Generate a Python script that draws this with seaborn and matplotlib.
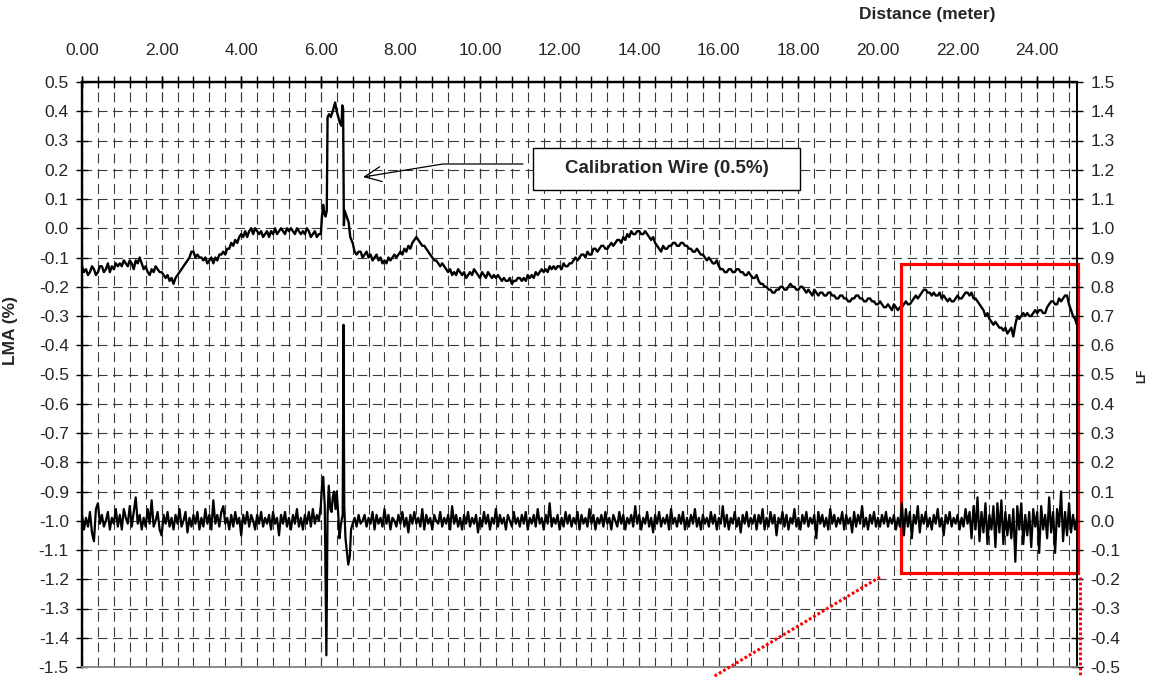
import numpy as np
import pandas as pd
import matplotlib
matplotlib.use("Agg")
import matplotlib.pyplot as plt
import seaborn as sns
from matplotlib.lines import Line2D
from matplotlib.patches import Rectangle

# ------------------------------------------------------------------ data
# LMA (%) trace, values in hundredths of a percent
# segment 1: distance 0.00 .. 6.00 m, step 0.05 m
lma_seg1 = [
    -13, -15, -14, -16, -15, -13, -14, -16, -15, -13, -13, -15, -14, -12, -15, -13, -14, -12, -13, -12,
    -13, -11, -12, -13, -11, -12, -14, -11, -12, -10, -12, -14, -13, -15, -16, -14, -15, -13, -14, -15,
    -15, -16, -17, -16, -18, -17, -19, -17, -16, -15, -14, -13, -12, -11, -10, -8, -8, -10, -9, -10,
    -10, -11, -10, -12, -11, -10, -12, -10, -11, -9, -9, -8, -9, -7, -7, -5, -6, -4, -5, -3,
    -2, -3, -1, -3, -1, 0, -2, 0, -1, -2, -1, -3, -2, -1, -3, -1, -2, 0, -2, -1,
    0, -1, -2, 0, -1, 0, -1, -2, 0, -1, -2, -1, -2, 0, -1, -3, -2, -1, -3, -2,
    -2,
]
# calibration wire region (irregular distances)
lma_peak_x = [6.03, 6.06, 6.09, 6.12, 6.15, 6.17, 6.21, 6.25, 6.30, 6.36,
              6.40, 6.44, 6.48, 6.52, 6.54, 6.56, 6.58, 6.60, 6.65, 6.70, 6.74]
lma_peak = [4, 8, 5, 4, 6, 38, 39, 38, 40, 43,
            40, 38, 36, 35, 42, 41, 1, 6, 4, 2, -3]
# segment 2: distance 6.80 .. 25.00 m, step 0.05 m
lma_seg2 = [
    -5, -8, -9, -8,
    -8, -10, -9, -8, -10, -9, -11, -10, -9, -11, -10, -12, -11, -12, -10, -11, -10, -9, -10, -9,
    -8, -9, -7, -8, -6, -7, -5, -4, -3, -4, -5, -6, -6, -7, -8, -9, -10, -11, -11, -12,
    -13, -12, -13, -14, -15, -14, -16, -15, -16, -14, -15, -16, -15, -17, -16, -15, -16, -14, -15, -16,
    -17, -15, -16, -17, -15, -16, -17, -16, -17, -16, -17, -18, -17, -18, -18, -17, -19, -18, -18, -17,
    -17, -18, -17, -18, -16, -17, -16, -17, -15, -16, -15, -14, -15, -14, -15, -13, -14, -13, -14, -13,
    -13, -14, -12, -13, -13, -12, -12, -11, -10, -11, -10, -9, -9, -10, -8, -9, -9, -7, -7, -8,
    -7, -6, -6, -7, -7, -6, -5, -6, -5, -4, -4, -5, -3, -4, -2, -3, -1, -2, -2, -1,
    -1, -2, -2, -1, -2, -3, -4, -3, -5, -6, -7, -8, -6, -7, -7, -6, -6, -5, -5, -6,
    -6, -5, -5, -6, -6, -7, -7, -8, -8, -7, -8, -9, -9, -10, -11, -10, -11, -12, -12, -11,
    -13, -14, -14, -15, -15, -14, -14, -15, -15, -14, -14, -15, -15, -16, -16, -15, -16, -17, -17, -16,
    -18, -19, -19, -20, -20, -21, -21, -22, -22, -21, -21, -20, -20, -21, -21, -20, -19, -20, -20, -21,
    -21, -20, -20, -21, -22, -21, -22, -23, -21, -22, -23, -22, -22, -23, -23, -22, -22, -23, -23, -24,
    -24, -23, -23, -24, -24, -25, -25, -24, -24, -23, -23, -24, -24, -25, -25, -24, -24, -25, -25, -26,
    -26, -25, -26, -27, -27, -26, -27, -28, -26, -27, -28, -27, -27, -26, -25, -26, -26, -25, -24, -23,
    -24, -23, -22, -21, -21, -22, -22, -23, -22, -23, -23, -22, -24, -23, -24, -25, -24, -25, -25, -24,
    -23, -24, -24, -23, -22, -22, -23, -22, -24, -24, -25, -26, -27, -28, -30, -29, -31, -32, -33, -32,
    -33, -34, -34, -35, -34, -36, -35, -34, -37, -33, -30, -31, -30, -29, -30, -29, -30, -30, -29, -28,
    -29, -28, -28, -29, -29, -27, -26, -25, -25, -26, -26, -24, -25, -24, -23, -23, -26, -28, -30, -31,
    -33,
]

# LF trace, values in hundredths
# segment 1: distance 0.00 .. 6.00 m, step 0.05 m
lf_seg1 = [
    2, -3, 1, -2, 3, -4, -7, 4, 6, -1, 2, -2, 0, 3, -3, 1, -1, 4, -2, 2,
    -3, 4, 1, -1, 5, -2, 3, 8, -1, 2, -3, 1, -2, 4, -1, 7, -2, 0, 3, -3,
    -5, 2, -1, 3, -2, 1, -3, 2, -1, 4, -2, 0, 3, -4, 1, -2, 2, -1, 3, -3,
    1, -2, 4, -1, 2, -3, 7, -1, 2, -2, 3, 5, -1, 1, -3, 2, -2, 3, -1, 1,
    -5, 2, -1, 3, -2, 2, 0, -3, 2, -1, 3, -2, 1, -1, 2, -3, 3, -1, 1, -5,
    2, -1, 3, -2, 1, -3, 2, -1, 4, -2, 1, -3, 2, -1, 3, -2, 4, -1, 2, 0,
    5,
]
lf_peak_x = [6.03, 6.06, 6.10, 6.14, 6.17, 6.20, 6.24, 6.27, 6.30, 6.33,
             6.37, 6.40, 6.44, 6.47, 6.50, 6.52, 6.55, 6.57, 6.59, 6.62,
             6.65, 6.69, 6.73, 6.76]
lf_peak = [12, 15, 5, -46, 2, 12, 4, 3, 8, 10,
           4, 10, 2, -6, -2, 0, 2, 67, 5, -6,
           -10, -15, -12, -3]
# segment 2: distance 6.80 .. 25.00 m, step 0.05 m
lf_seg2 = [
    -1, 1, -2, 2,
    -1, 0, 2, -2, 1, -1, 3, -3, 2, -1, 1, -2, 4, -1, 2, -3, 1, 0, -2, 2,
    -1, 3, -2, 1, -4, 2, -1, 3, -1, 1, -2, 4, -3, 2, -1, 1, -3, 2, 0, -1,
    3, -2, 1, -1, 2, -3, 5, -1, 2, -2, 1, -3, 2, -1, 3, -2, 1, -1, 2, -4,
    1, -2, 3, -1, 2, -3, 1, -1, 4, -2, 2, -1, 1, -3, 2, 0, -2, 3, -1, 1,
    -2, 2, -1, 3, -3, 1, -1, 2, -2, 4, -1, 1, -3, 2, -1, 6, -2, 1, -1, 2,
    -3, 1, -2, 3, -1, 2, -2, 1, -1, 3, -3, 2, -1, 1, -2, 4, -1, 2, -3, 1,
    -1, 2, -2, 3, -1, 1, -3, 2, 0, -2, 3, -1, 2, -3, 1, -1, 2, -2, 5, -1,
    2, -3, 1, -1, 3, -2, 1, -4, 2, -1, 3, -2, 1, -1, 2, -3, 4, -1, 1, -2,
    2, -1, 3, -3, 1, -2, 2, -1, 4, -2, 1, -3, 2, -1, 1, -2, 3, -1, 2, -3,
    1, -1, 5, -2, 2, -3, 1, -1, 3, -2, 1, -4, 2, -1, 3, -2, 1, -1, 2, -3,
    2, -1, 4, -3, 1, -2, 3, -1, 2, -5, 1, -1, 3, -2, 2, -3, 1, -1, 4, -2,
    1, -3, 2, -1, 3, -2, 1, -1, 2, -6, 3, -1, 2, -2, 1, -3, 4, -1, 2, -2,
    1, -1, 3, -3, 2, -1, 1, -4, 3, -2, 2, -1, 5, -2, 1, -3, 2, -1, 3, -2,
    1, -2, 2, -1, 3, -2, 1, -1, 2, -3, 1, -2, 6, -5, 4, -2, 3, -6, 2, -1,
    5, -4, 2, -1, 3, -2, 1, -3, 2, -1, 4, -2, 1, -5, 2, -1, 3, -2, 1, -1,
    2, -3, 1, -2, 4, -1, 3, -6, 5, -3, 8, -7, 3, -4, 6, -8, 2, -3, 5, -9,
    6, -4, 7, -8, 3, -5, 2, -6, 4, -14, 5, -3, 6, -8, 2, -5, 3, -9, 4, -2,
    3, -11, 5, -3, 2, -6, 8, -4, 3, -11, 4, -2, 10, -7, 3, -5, 6, -4, 2, -3,
    1,
]

x_tick_values = [0, 2, 4, 6, 8, 10, 12, 14, 16, 18, 20, 22, 24]
x_tick_labels = ["0.00", "2.00", "4.00", "6.00", "8.00", "10.00", "12.00",
                 "14.00", "16.00", "18.00", "20.00", "22.00", "24.00"]
lma_tick_values = [-1.5, -1.4, -1.3, -1.2, -1.1, -1.0, -0.9, -0.8, -0.7, -0.6,
                   -0.5, -0.4, -0.3, -0.2, -0.1, 0.0, 0.1, 0.2, 0.3, 0.4, 0.5]
lma_tick_labels = ["-1.5", "-1.4", "-1.3", "-1.2", "-1.1", "-1.0", "-0.9", "-0.8",
                   "-0.7", "-0.6", "-0.5", "-0.4", "-0.3", "-0.2", "-0.1", "0.0",
                   "0.1", "0.2", "0.3", "0.4", "0.5"]
lf_tick_values = [-0.5, -0.4, -0.3, -0.2, -0.1, 0.0, 0.1, 0.2, 0.3, 0.4, 0.5,
                  0.6, 0.7, 0.8, 0.9, 1.0, 1.1, 1.2, 1.3, 1.4, 1.5]
lf_tick_labels = ["-0.5", "-0.4", "-0.3", "-0.2", "-0.1", "0.0", "0.1", "0.2",
                  "0.3", "0.4", "0.5", "0.6", "0.7", "0.8", "0.9", "1.0", "1.1",
                  "1.2", "1.3", "1.4", "1.5"]

# ------------------------------------------------------------------ frames
step = 0.05
lma_x = np.concatenate([step * np.arange(len(lma_seg1)), lma_peak_x,
                        6.8 + step * np.arange(len(lma_seg2))])
lma_y = np.concatenate([lma_seg1, lma_peak, lma_seg2]) / 100.0
lf_x = np.concatenate([step * np.arange(len(lf_seg1)), lf_peak_x,
                       6.8 + step * np.arange(len(lf_seg2))])
lf_y = np.concatenate([lf_seg1, lf_peak, lf_seg2]) / 100.0
df_lma = pd.DataFrame({"distance": lma_x, "LMA": lma_y})
df_lf = pd.DataFrame({"distance": lf_x, "LF": lf_y})

# ------------------------------------------------------------------ style
sns.set_theme(style="white")
plt.rcParams["font.family"] = ["Liberation Sans", "DejaVu Sans"]
plt.rcParams["lines.scale_dashes"] = False

W, H = 1152, 677
fig = plt.figure(figsize=(W / 100, H / 100), dpi=100)
L, R, T, B = 82, 1077, 82, 667
ax = fig.add_axes([L / W, 1 - B / H, (R - L) / W, (B - T) / H])
ax2 = ax.twinx()

sns.lineplot(data=df_lma, x="distance", y="LMA", ax=ax, color="black",
             linewidth=1.7, estimator=None, sort=False, zorder=3)
sns.lineplot(data=df_lf, x="distance", y="LF", ax=ax2, color="black",
             linewidth=1.6, estimator=None, sort=False, zorder=3)

ax.set_xlim(0, 25)
ax.set_ylim(-1.5, 0.5)
ax2.set_ylim(-0.5, 1.5)

# x axis on top
ax.xaxis.tick_top()
ax.xaxis.remove_overlapping_locs = False
ax.set_xticks(x_tick_values)
ax.set_xticklabels(x_tick_labels)
ax.set_xticks(np.arange(0, 25.0, 0.4), minor=True)
ax.tick_params(axis="x", which="both", top=True, bottom=False,
               direction="inout", length=9, width=1, color="black",
               labelsize=12.5, pad=13)
ax.set_yticks(lma_tick_values)
ax.set_yticklabels(lma_tick_labels)
ax.tick_params(axis="y", which="major", left=True, direction="inout",
               length=9, width=1, color="black", labelsize=12.5, pad=5)
ax2.set_yticks(lf_tick_values)
ax2.set_yticklabels(lf_tick_labels)
ax2.tick_params(axis="y", which="major", right=True, direction="inout",
                length=9, width=1, color="black", labelsize=12.5, pad=5)

# grid
dash = (0, (7, 4))
ax.grid(True, axis="x", which="both", color="#3a3a3a", linewidth=0.8,
        linestyle=dash)
ax.grid(True, axis="y", which="major", color="#3a3a3a", linewidth=0.8,
        linestyle=dash)
ax.set_axisbelow(True)

# spines
for a in (ax, ax2):
    a.spines["top"].set_color("black")
    a.spines["top"].set_linewidth(1.6)
    a.spines["left"].set_color("black")
    a.spines["left"].set_linewidth(1.6)
    a.spines["right"].set_color("black")
    a.spines["right"].set_linewidth(1.2)
    a.spines["bottom"].set_color("#8a8a8a")
    a.spines["bottom"].set_linewidth(1.2)

# labels
ax.set_xlabel("")
ax.set_ylabel("LMA (%)", fontsize=12.5, fontweight="bold")
ax.yaxis.set_label_coords(-0.064, 0.576)
ax2.set_ylabel("LF", fontsize=8.5, fontweight="bold")
ax2.yaxis.set_label_coords(1.060, 0.497)
fig.text(927 / W, 1 - 15 / H, "Distance (meter)", ha="center", va="center",
         fontsize=12.5, fontweight="bold")

# calibration annotation
box = Rectangle((11.33, 0.1308), 18.04 - 11.33, 0.2744 - 0.1308,
                facecolor="white", edgecolor="black", linewidth=1.0, zorder=6)
ax.add_patch(box)
ax.text((11.33 + 18.04) / 2, (0.1308 + 0.2744) / 2, "Calibration Wire (0.5%)",
        ha="center", va="center", fontsize=13.5, fontweight="bold", zorder=7)
ax.annotate("", xy=(7.06, 0.175), xytext=(11.08, 0.2197),
            arrowprops=dict(arrowstyle="->,head_length=1.0,head_width=0.45",
                            color="black", linewidth=0.9, shrinkA=0, shrinkB=0,
                            connectionstyle="angle,angleA=0,angleB=9.3,rad=0"),
            zorder=7)

# red zoom rectangle
rect = Rectangle((20.58, -1.179), 25.02 - 20.58, -0.122 + 1.179, fill=False,
                 edgecolor="#ff0000", linewidth=2.3, clip_on=False, zorder=8)
ax.add_patch(rect)
dot = (0, (2.0, 1.6))
fig.add_artist(Line2D([880 / W, 713 / W], [1 - 577 / H, 0.0], color="#ff0000",
                      linewidth=2.2, linestyle=dot))
fig.add_artist(Line2D([1080 / W, 1080 / W], [1 - 577 / H, 0.0], color="#ff0000",
                      linewidth=2.2, linestyle=dot))

fig.savefig("out.png", dpi=100)
